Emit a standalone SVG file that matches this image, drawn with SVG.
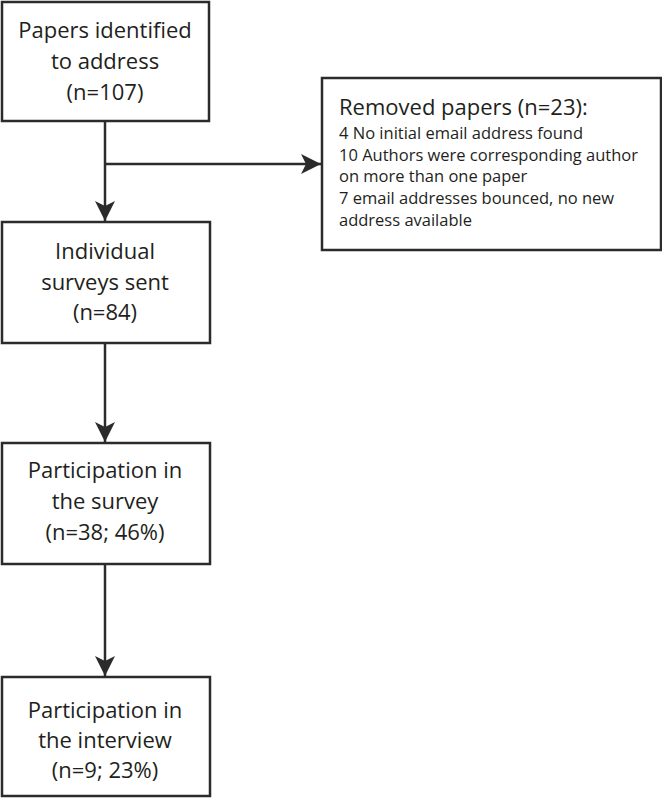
<svg xmlns="http://www.w3.org/2000/svg" width="662" height="798" viewBox="0 0 662 798">
<defs>
<style>
.box{fill:#fff;stroke:#2b2b2b;stroke-width:2.5}
.t{font-family:"Open Sans","Liberation Sans",sans-serif;font-size:22px;fill:#231f20;text-anchor:middle}
.h{font-family:"Open Sans","Liberation Sans",sans-serif;font-size:22px;fill:#231f20}
.s{font-family:"Open Sans","Liberation Sans",sans-serif;font-size:16.5px;fill:#231f20}
.c{fill:none;stroke:#2b2b2b;stroke-width:2.5}
</style>
<marker id="ah" markerWidth="20" markerHeight="20" viewBox="0 0 20 20" refX="20" refY="10" orient="auto" markerUnits="userSpaceOnUse">
<path d="M0,0 L20,10 L0,20 L5,10 Z" fill="#2b2b2b"/>
</marker>
</defs>
<rect width="662" height="798" fill="#fff"/>
<g id="connectors">
<path class="c" d="M105,121 V221" marker-end="url(#ah)"/>
<path class="c" d="M105,164 H321" marker-end="url(#ah)"/>
<path class="c" d="M105,343 V442" marker-end="url(#ah)"/>
<path class="c" d="M105,564 V676" marker-end="url(#ah)"/>
</g>
<g id="papers">
<rect class="box" x="2" y="2" width="207" height="119"/>
<text class="t" x="105" y="38">Papers identified</text>
<text class="t" x="105" y="69">to address</text>
<text class="t" x="105" y="100">(n=107)</text>
</g>
<g id="removed">
<rect class="box" x="322" y="78" width="339" height="172"/>
<text class="h" x="339" y="115">Removed papers (n=23):</text>
<text class="s" x="339" y="139">4 No initial email address found</text>
<text class="s" x="339" y="161">10 Authors were corresponding author</text>
<text class="s" x="339" y="182">on more than one paper</text>
<text class="s" x="339" y="204">7 email addresses bounced, no new</text>
<text class="s" x="339" y="226">address available</text>
</g>
<g id="surveys">
<rect class="box" x="2" y="222" width="208" height="121"/>
<text class="t" x="105" y="259">Individual</text>
<text class="t" x="105" y="290">surveys sent</text>
<text class="t" x="105" y="320">(n=84)</text>
</g>
<g id="survey-participation">
<rect class="box" x="2" y="443" width="208" height="121"/>
<text class="t" x="105" y="478">Participation in</text>
<text class="t" x="105" y="509">the survey</text>
<text class="t" x="105" y="540">(n=38; 46%)</text>
</g>
<g id="interview-participation">
<rect class="box" x="2" y="677" width="208" height="119"/>
<text class="t" x="105" y="718">Participation in</text>
<text class="t" x="105" y="748">the interview</text>
<text class="t" x="105" y="778">(n=9; 23%)</text>
</g>
</svg>
